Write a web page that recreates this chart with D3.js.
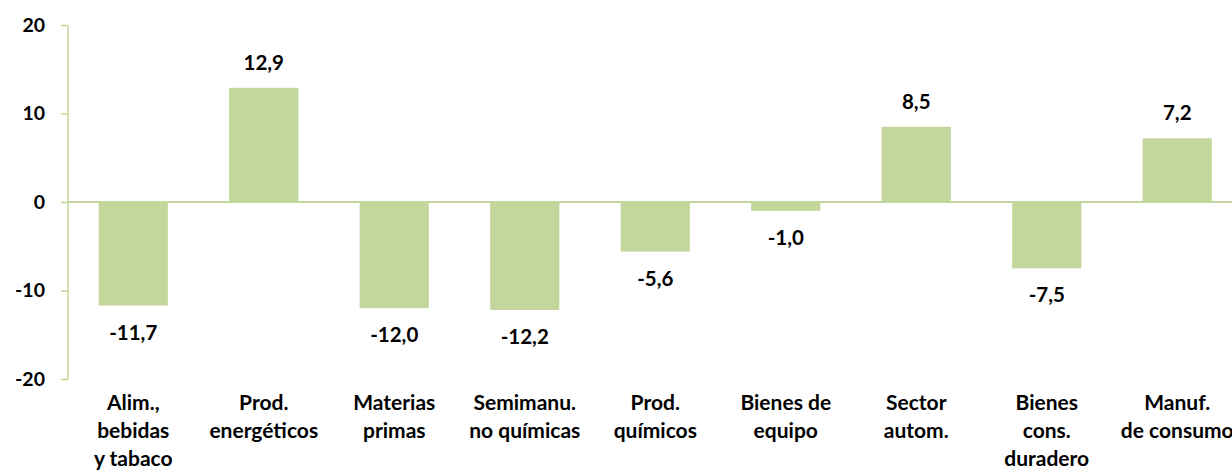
<!DOCTYPE html>
<meta charset="utf-8">
<script src="https://d3js.org/d3.v7.min.js"></script>
<style>
  body { margin: 0; background: #fff; }
  text { font-family: Lato, "Open Sans", sans-serif; font-weight: bold; fill: #000; }
</style>
<body>
<div id="chart"></div>
<script>
// categories (lines of each x label) and values
var categories = [
  ["Alim.,", "bebidas", "y tabaco"],
  ["Prod.", "energéticos"],
  ["Materias", "primas"],
  ["Semimanu.", "no químicas"],
  ["Prod.", "químicos"],
  ["Bienes de", "equipo"],
  ["Sector", "autom."],
  ["Bienes", "cons.", "duradero"],
  ["Manuf.", "de consumo"]
];
var values = [-11.7, 12.9, -12.0, -12.2, -5.6, -1.0, 8.5, -7.5, 7.2];
var yTicks = [-20, -10, 0, 10, 20];

var width = 1232, height = 470;
var green = "#c3d69b";

var svg = d3.select("#chart").append("svg")
  .attr("width", width)
  .attr("height", height);

var x = d3.scaleBand()
  .domain(d3.range(categories.length))
  .range([68, 68 + 130.5 * categories.length])
  .paddingInner(0.47)
  .paddingOuter(0.235);

var y = d3.scaleLinear()
  .domain([-20, 20])
  .range([379, 25]);

// y axis
var yAxis = svg.append("g")
  .attr("transform", "translate(68,0)")
  .call(d3.axisLeft(y).tickValues(yTicks).tickSize(7).tickPadding(16).tickFormat(function(d) { return String(d); }));
yAxis.select(".domain").attr("stroke", green).attr("stroke-width", 1.5).attr("d", "M0," + y(20) + "V" + y(-20));
yAxis.selectAll(".tick line").attr("stroke", green).attr("stroke-width", 1.5);
yAxis.selectAll(".tick text").style("font-size", "19.5px").attr("fill", "#000");

// bars
svg.selectAll("rect.bar")
  .data(values)
  .enter().append("rect")
  .attr("class", "bar")
  .attr("x", function(d, i) { return x(i); })
  .attr("y", function(d) { return y(Math.max(0, d)); })
  .attr("width", x.bandwidth())
  .attr("height", function(d) { return Math.abs(y(d) - y(0)); })
  .attr("fill", green);

// zero line
svg.append("line")
  .attr("x1", 68).attr("x2", width)
  .attr("y1", y(0)).attr("y2", y(0))
  .attr("stroke", green).attr("stroke-width", 2);

// value labels
var fmt = function(d) { return d.toFixed(1).replace(".", ","); };
svg.selectAll("text.val")
  .data(values)
  .enter().append("text")
  .attr("class", "val")
  .attr("x", function(d, i) { return x(i) + x.bandwidth() / 2; })
  .attr("y", function(d) { return d >= 0 ? y(d) - 18 : y(d) + 34; })
  .attr("text-anchor", "middle")
  .style("font-size", "20.5px")
  .text(fmt);

// category labels
var cat = svg.selectAll("text.cat")
  .data(categories)
  .enter().append("text")
  .attr("class", "cat")
  .attr("text-anchor", "middle")
  .style("font-size", "21px")
  .attr("transform", function(d, i) { return "translate(" + (x(i) + x.bandwidth() / 2) + ",410)"; });
cat.selectAll("tspan")
  .data(function(d) { return d; })
  .enter().append("tspan")
  .attr("x", 0)
  .attr("y", function(d, j) { return j * 28; })
  .text(function(d) { return d; });
</script>
</body>
